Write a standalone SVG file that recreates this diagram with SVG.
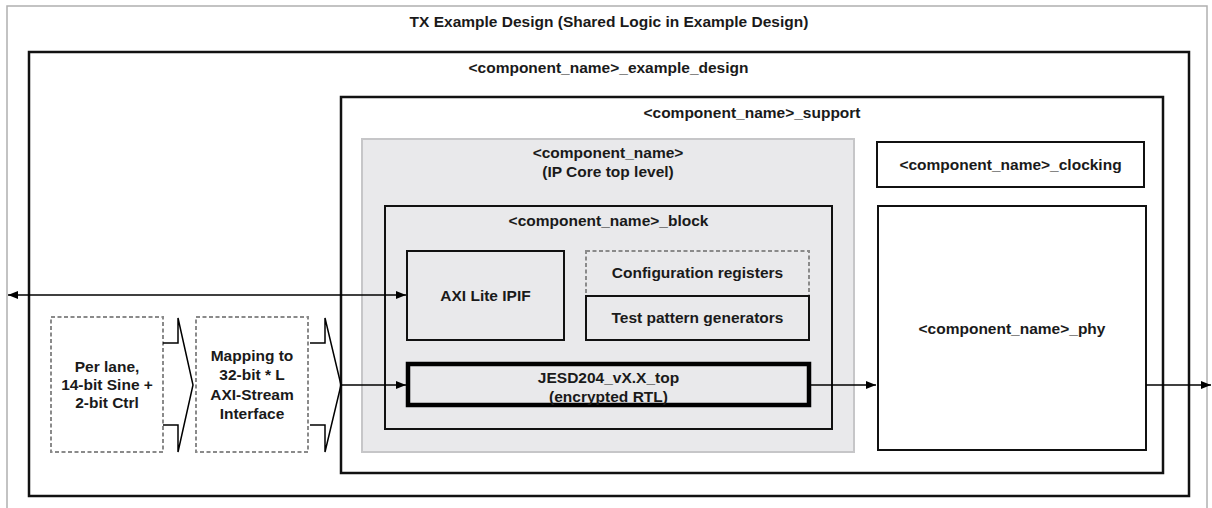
<svg xmlns="http://www.w3.org/2000/svg" width="1212" height="508" viewBox="0 0 1212 508">
<defs>
<marker id="arr" viewBox="0 0 10 8" refX="10" refY="4" markerWidth="10" markerHeight="8" markerUnits="userSpaceOnUse" orient="auto-start-reverse">
<path d="M0,0 L10,4 L0,8 Z" fill="#000"/>
</marker>
</defs>
<style>
text{font-family:"Liberation Sans",Arial,sans-serif;font-weight:bold;font-size:15.5px;fill:#1a1a1a;text-anchor:middle}
.box{fill:#fff;stroke:#111;stroke-width:2}
.thick{fill:#fff;stroke:#111;stroke-width:2.5}
.dash{fill:#fff;stroke:#8a8a8a;stroke-width:2;stroke-dasharray:4 2.5}
.dashT{fill:none;stroke:#8a8a8a;stroke-width:2;stroke-dasharray:4 2.5}
.conn{fill:none;stroke:#000;stroke-width:1.5}
.chev{fill:none;stroke:#000;stroke-width:1.5;stroke-linejoin:miter}
</style>
<rect width="1212" height="508" fill="#fff"/>
<g id="frame">
<rect x="7" y="6" width="1200" height="520" fill="#fff" stroke="#b0b0b0" stroke-width="1.5"/>
<text x="609" y="27">TX Example Design (Shared Logic in Example Design)</text>
</g>
<g id="example_design">
<rect class="thick" x="29" y="52" width="1160" height="444"/>
<text x="608.5" y="73">&lt;component_name&gt;_example_design</text>
</g>
<g id="support">
<rect class="thick" x="341" y="97" width="822" height="376"/>
<text x="752" y="118">&lt;component_name&gt;_support</text>
</g>
<g id="component">
<rect x="362" y="139" width="492" height="313" fill="#e9e9eb" stroke="#c6c6c8" stroke-width="2"/>
<text x="608" y="158">&lt;component_name&gt;</text>
<text x="608" y="177">(IP Core top level)</text>
</g>
<g id="block">
<rect x="385" y="206" width="447" height="223" fill="#e9e9eb" stroke="#111" stroke-width="2"/>
<text x="608.5" y="226">&lt;component_name&gt;_block</text>
</g>
<g id="axi_lite">
<rect x="407" y="251" width="157" height="89" fill="#e9e9eb" stroke="#111" stroke-width="2"/>
<text x="485.5" y="301">AXI Lite IPIF</text>
</g>
<g id="config_regs">
<rect class="dashT" x="586" y="251" width="223" height="45"/>
<text x="697.5" y="278">Configuration registers</text>
</g>
<g id="test_pattern">
<rect x="586" y="296" width="223" height="44" fill="#e9e9eb" stroke="#111" stroke-width="2"/>
<text x="697.5" y="323">Test pattern generators</text>
</g>
<g id="jesd_top">
<rect x="408" y="364" width="401" height="41" fill="#e9e9eb" stroke="#000" stroke-width="4.5"/>
<text x="608.5" y="383">JESD204_vX.X_top</text>
<text x="608.5" y="402">(encrypted RTL)</text>
</g>
<g id="clocking">
<rect class="box" x="877" y="142" width="267" height="45"/>
<text x="1010.5" y="170">&lt;component_name&gt;_clocking</text>
</g>
<g id="phy">
<rect class="box" x="878" y="206" width="268" height="244"/>
<text x="1012" y="334">&lt;component_name&gt;_phy</text>
</g>
<g id="per_lane">
<rect class="dash" x="51" y="317" width="112" height="135"/>
<text x="107" y="372">Per lane,</text>
<text x="107" y="390">14-bit Sine +</text>
<text x="107" y="408">2-bit Ctrl</text>
</g>
<g id="mapping">
<rect class="dash" x="196" y="317" width="112" height="135"/>
<text x="252" y="361">Mapping to</text>
<text x="252" y="380">32-bit * L</text>
<text x="252" y="400">AXI-Stream</text>
<text x="252" y="419">Interface</text>
</g>
<g id="connectors">
<polyline class="chev" points="163,343 178,343 178,318 193,385 178,452 178,425 163,425"/>
<polyline class="chev" points="310,343 325,343 325,318 341,385 325,452 325,425 310,425"/>
<line class="conn" x1="8" y1="295" x2="406" y2="295" marker-start="url(#arr)" marker-end="url(#arr)"/>
<line class="conn" x1="341" y1="385" x2="406" y2="385" marker-end="url(#arr)"/>
<line class="conn" x1="811" y1="385" x2="876" y2="385" marker-end="url(#arr)"/>
<line class="conn" x1="1146" y1="385" x2="1211" y2="385" marker-end="url(#arr)"/>
</g>
</svg>
